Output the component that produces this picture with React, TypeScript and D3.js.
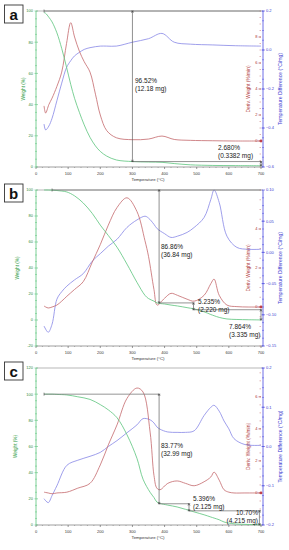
import React from 'react';
import * as d3 from 'd3';

// shared temperature axis
const tempTicks = [0, 100, 200, 300, 400, 500, 600, 700];

// ---- panel a ----
const tA = [25, 30, 40, 50, 65, 80, 95, 108, 120, 135, 150, 168, 185, 200, 220, 250, 300, 350, 392, 430, 480, 550, 620, 700];
const weightA = [99, 98.5, 96, 93, 86, 76, 64, 53, 44, 35, 27, 19, 13.5, 10, 7, 4.5, 3.5, 3.2, 3.0, 2.2, 1.4, 1.0, 0.9, 0.8];
const derivA = [2.7, 2.15, 2.8, 3.3, 4.2, 5.3, 7.5, 9.1, 8.0, 6.9, 6.1, 5.3, 3.6, 2.0, 0.8, 0.25, 0.1, 0.15, 0.38, 0.12, 0.05, 0.02, 0, 0];
const dtaA = [-0.38, -0.41, -0.39, -0.35, -0.26, -0.17, -0.09, -0.055, -0.03, -0.012, 0.003, 0.012, 0.017, 0.02, 0.02, 0.02, 0.04, 0.058, 0.085, 0.04, 0.03, 0.026, 0.022, 0.02];

// ---- panel b ----
const tB = [25, 38, 50, 65, 80, 96, 120, 147, 175, 200, 225, 252, 283, 314, 339, 350, 367, 377, 400, 420, 440, 470, 492, 523, 544, 554, 570, 594, 625, 660, 700];
const weightB = [100, 100, 99.9, 99.6, 99.2, 98.5, 95.5, 90, 82, 73, 65, 56, 43, 29, 19, 16.5, 14.5, 13.1, 12.3, 11.5, 10.8, 9.5, 8.5, 6.3, 4.2, 3.3, 2, 0.8, 0.4, 0.2, 0.05];
const derivB = [0.05, -0.05, 0, 0.1, 0.3, 0.55, 0.9, 1.3, 2.3, 3.2, 4.2, 5.1, 5.6, 4.9, 3.4, 2.6, 0.9, 0.1, 0.45, 0.7, 0.6, 0.4, 0.3, 0.6, 1.2, 1.43, 0.6, 0.1, 0.02, 0, 0];
const dtaB = [-0.118, -0.128, -0.115, -0.075, -0.063, -0.054, -0.044, -0.034, -0.014, -0.002, 0.01, 0.021, 0.04, 0.052, 0.058, 0.055, 0.045, 0.038, 0.03, 0.024, 0.026, 0.032, 0.04, 0.056, 0.085, 0.1, 0.08, 0.026, 0.008, 0.005, 0.005];

// ---- panel c ----
const tC = [25, 38, 50, 65, 96, 130, 168, 200, 225, 252, 283, 314, 333, 355, 367, 376, 386, 410, 439, 465, 492, 523, 544, 554, 570, 585, 600, 616, 650, 700];
const weightC = [100, 100, 100, 99.8, 99.4, 98, 96, 92, 88, 82, 69, 51, 35, 25, 21, 17.6, 16.5, 15.2, 13.8, 12, 10, 7.8, 6.1, 5.3, 4, 2.3, 1.5, 0.9, 0.5, 0.13];
const derivC = [0.05, 0, -0.05, 0, 0.05, 0.3, 0.6, 1.75, 3.0, 4.25, 5.9, 6.55, 6.3, 3.8, 1.1, 0.3, 0.2, 0.6, 0.75, 0.6, 0.45, 0.7, 1.0, 1.3, 0.8, 0.2, 0.05, 0, 0, 0];
const dtaC = [-0.133, -0.143, -0.125, -0.1, -0.048, -0.035, -0.025, -0.015, 0, 0.015, 0.035, 0.055, 0.071, 0.068, 0.06, 0.05, 0.044, 0.037, 0.036, 0.036, 0.04, 0.079, 0.1, 0.105, 0.09, 0.065, 0.045, 0.02, 0.005, 0.003];

// weight-loss steps: horizontal guide lines and vertical measurements
const hLinesA = [{ level: 100, t0: 25, t1: 700 }, { level: 3.48, t0: 300, t1: 700 }];
const vLinesA = [{ t: 300, hi: 100, lo: 3.48 }, { t: 700, hi: 3.48, lo: 0.8 }];
const labelsA = [['96.52%', '(12.18 mg)'], ['2.680%', '(0.3382 mg)']];

const hLinesB = [{ level: 100, t0: 50, t1: 700 }, { level: 13.14, t0: 383, t1: 490 }, { level: 7.9, t0: 490, t1: 700 }];
const vLinesB = [{ t: 383, hi: 100, lo: 13.14 }, { t: 490, hi: 13.14, lo: 7.9 }, { t: 700, hi: 7.9, lo: 0.04 }];
const labelsB = [['86.86%', '(36.84 mg)'], ['5.235%', '(2.220 mg)'], ['7.864%', '(3.335 mg)']];

const hLinesC = [{ level: 100, t0: 25, t1: 383 }, { level: 16.23, t0: 383, t1: 476 }, { level: 10.83, t0: 476, t1: 700 }];
const vLinesC = [{ t: 383, hi: 100, lo: 16.23 }, { t: 476, hi: 16.23, lo: 10.83 }, { t: 695, hi: 10.83, lo: 0.13 }];
const labelsC = [['83.77%', '(32.99 mg)'], ['5.396%', '(2.125 mg)'], ['10.70%', '(4.215 mg)']];

const GREEN = '#5cc47c';
const RED = '#c4686c';
const BLUE = '#8686e6';
const FONT = '"Liberation Sans", Arial, sans-serif';

const xScale = d3.scaleLinear().domain([0, 700]).range([36, 261]);

type HLine = { level: number; t0: number; t1: number };
type VLine = { t: number; hi: number; lo: number };
type LabelPos = { x: number; y: number; anchor: string };

interface PanelProps {
  top: number;
  bottom: number;
  letter: string;
  t: number[];
  weight: number[];
  deriv: number[];
  dta: number[];
  wDomain: [number, number];
  wTicks: number[];
  dDomain: [number, number];
  dTicks: number[];
  tDomain: [number, number];
  tTicks: number[];
  tFmt: string;
  hLines: HLine[];
  vLines: VLine[];
  labels: string[][];
  labelPos: LabelPos[];
  wTitleX: number;
}

const Panel: React.FC<PanelProps> = (p) => {
  const yW = d3.scaleLinear().domain(p.wDomain).range([p.bottom, p.top]);
  const yD = d3.scaleLinear().domain(p.dDomain).range([p.bottom, p.top]);
  const yT = d3.scaleLinear().domain(p.tDomain).range([p.bottom, p.top]);
  const mid = (p.top + p.bottom) / 2;

  const mk = (vals: number[], y: d3.ScaleLinear<number, number>) =>
    d3.line<number>()
      .x((_, i) => xScale(p.t[i]))
      .y((v) => y(v))
      .curve(d3.curveCatmullRom.alpha(0.5))(vals) || '';

  // minor ticks
  const xMinor = d3.range(0, 701, 20).filter((v) => v % 100 !== 0);
  const wStep = p.wTicks[1] - p.wTicks[0];
  const wMinor = d3.range(p.wDomain[0], p.wDomain[1] + 0.001, wStep / 4).filter((v) => !p.wTicks.includes(v));
  const tStep = p.tTicks[1] - p.tTicks[0];
  const tMinor = d3.range(0, 20).map((i) => p.tDomain[0] + (i * tStep) / 4).filter((v) => v <= p.tDomain[1] + 1e-9);
  const dMinor = d3.range(p.dDomain[0], p.dDomain[1] + 0.001, 0.5);

  const tf = d3.format(p.tFmt);
  const lastDeriv = p.deriv[p.deriv.length - 1];

  return (
    <g fontFamily={FONT}>
      {/* letter box */}
      <rect x={4.5} y={p.top - 6} width={18.5} height={18} fill="#fff" stroke="#333" strokeWidth={0.9} />
      <text x={13.7} y={p.top + 8.5} textAnchor="middle" fontSize={15} fontWeight="bold" fill="#111">{p.letter}</text>

      {/* frame top */}
      <line x1={36} x2={263} y1={p.top} y2={p.top} stroke="#999" strokeWidth={0.7} />

      {/* x axis */}
      <line x1={36} x2={263} y1={p.bottom} y2={p.bottom} stroke="#777" strokeWidth={0.7} />
      {xMinor.map((v) => (
        <line key={'xm' + v} x1={xScale(v)} x2={xScale(v)} y1={p.bottom} y2={p.bottom + 1} stroke="#777" strokeWidth={0.5} />
      ))}
      {tempTicks.map((v) => (
        <g key={'x' + v}>
          <line x1={xScale(v)} x2={xScale(v)} y1={p.bottom} y2={p.bottom + 2} stroke="#555" strokeWidth={0.6} />
          <text x={xScale(v)} y={p.bottom + 7.5} textAnchor="middle" fontSize={4} fill="#333">{v}</text>
        </g>
      ))}
      <text x={148} y={p.bottom + 13.5} textAnchor="middle" fontSize={4.3} fill="#333">Temperature (°C)</text>

      {/* left axis: weight */}
      <line x1={36} x2={36} y1={p.top} y2={p.bottom} stroke={GREEN} strokeWidth={0.8} />
      {wMinor.map((v) => (
        <line key={'wm' + v} x1={35} x2={37} y1={yW(v)} y2={yW(v)} stroke={GREEN} strokeWidth={0.5} />
      ))}
      {p.wTicks.map((v) => (
        <g key={'w' + v}>
          <line x1={34.5} x2={38} y1={yW(v)} y2={yW(v)} stroke={GREEN} strokeWidth={0.6} />
          <text x={33} y={yW(v) + 1.4} textAnchor="end" fontSize={4} fill="#2e8a3e">{v}</text>
        </g>
      ))}
      <text transform={`translate(${p.wTitleX},${mid}) rotate(-90)`} textAnchor="middle" fontSize={4.7} fill="#2e9a40">Weight (%)</text>

      {/* right axis: derivative weight */}
      {dMinor.map((v) => (
        <line key={'dm' + v} x1={259.5} x2={261} y1={yD(v)} y2={yD(v)} stroke={RED} strokeWidth={0.5} />
      ))}
      {p.dTicks.map((v) => (
        <g key={'d' + v}>
          <line x1={258.5} x2={261} y1={yD(v)} y2={yD(v)} stroke="#a33" strokeWidth={0.6} />
          <text x={257.5} y={yD(v) + 1.4} textAnchor="end" fontSize={4} fill="#a33">{v}</text>
        </g>
      ))}
      <text transform={`translate(${250},${mid}) rotate(-90)`} textAnchor="middle" fontSize={4.9} fill="#b03a3a">Deriv. Weight (%/min)</text>

      {/* right axis: temperature difference */}
      <line x1={263} x2={263} y1={p.top} y2={p.bottom} stroke="#4a4ae0" strokeWidth={0.8} />
      {tMinor.map((v, i) => (
        <line key={'tm' + i} x1={262} x2={264} y1={yT(v)} y2={yT(v)} stroke="#4a4ae0" strokeWidth={0.5} />
      ))}
      {p.tTicks.map((v) => (
        <g key={'t' + v}>
          <line x1={261.5} x2={265} y1={yT(v)} y2={yT(v)} stroke="#4a4ae0" strokeWidth={0.6} />
          <text x={266} y={yT(v) + 1.4} fontSize={4} fill="#3a3ad0">{tf(v)}</text>
        </g>
      ))}
      <text transform={`translate(${281.5},${mid}) rotate(-90)`} textAnchor="middle" fontSize={5.1} fill="#3a3ad0">Temperature Difference (°C/mg)</text>

      {/* curves */}
      <path d={mk(p.dta, yT)} fill="none" stroke={BLUE} strokeWidth={0.8} />
      <path d={mk(p.deriv, yD)} fill="none" stroke={RED} strokeWidth={0.8} />
      <circle cx={xScale(700)} cy={yD(lastDeriv)} r={1.4} fill="#c0404a" />
      <path d={mk(p.weight, yW)} fill="none" stroke={GREEN} strokeWidth={0.8} />

      {/* step annotations */}
      {p.hLines.map((h, i) => (
        <line key={'h' + i} x1={xScale(h.t0)} x2={xScale(h.t1)} y1={yW(h.level)} y2={yW(h.level)} stroke="#7a7a7a" strokeWidth={0.8} />
      ))}
      {p.vLines.map((v, i) => (
        <g key={'v' + i} stroke="#444" strokeWidth={0.6}>
          <line x1={xScale(v.t)} x2={xScale(v.t)} y1={yW(v.hi)} y2={yW(v.lo)} />
          <line x1={xScale(v.t) - 1.2} x2={xScale(v.t) + 1.2} y1={yW(v.hi)} y2={yW(v.hi)} />
          <line x1={xScale(v.t) - 1.2} x2={xScale(v.t) + 1.2} y1={yW(v.lo)} y2={yW(v.lo)} />
          <path d={`M${xScale(v.t) - 1},${yW(v.hi) + 1.8}L${xScale(v.t)},${yW(v.hi)}L${xScale(v.t) + 1},${yW(v.hi) + 1.8}`} fill="none" />
          <path d={`M${xScale(v.t) - 1},${yW(v.lo) - 1.8}L${xScale(v.t)},${yW(v.lo)}L${xScale(v.t) + 1},${yW(v.lo) - 1.8}`} fill="none" />
        </g>
      ))}
      {p.hLines.length > 0 && (
        <line x1={xScale(p.hLines[0].t0)} x2={xScale(p.hLines[0].t0)} y1={yW(p.hLines[0].level) - 1.5} y2={yW(p.hLines[0].level) + 1.5} stroke="#444" strokeWidth={0.6} />
      )}
      {p.labels.map((lines, i) => (
        <text key={'l' + i} x={p.labelPos[i].x} y={p.labelPos[i].y} textAnchor={p.labelPos[i].anchor} fontSize={6.5} fill="#222">
          {lines.map((s, j) => (
            <tspan key={j} x={p.labelPos[i].x} dy={j === 0 ? 0 : 8}>{s}</tspan>
          ))}
        </text>
      ))}
    </g>
  );
};

export default function App() {
  return (
    <svg width={289} height={550} style={{ position: 'absolute', left: 0, top: 0, background: '#fff' }}>
      <Panel
        top={11} bottom={167} letter="a"
        t={tA} weight={weightA} deriv={derivA} dta={dtaA}
        wDomain={[0, 100]} wTicks={[0, 20, 40, 60, 80, 100]}
        dDomain={[-2, 10]} dTicks={[0, 2, 4, 6, 8]}
        tDomain={[-0.6, 0.2]} tTicks={[-0.6, -0.4, -0.2, 0, 0.2]} tFmt=".1f"
        hLines={hLinesA} vLines={vLinesA} labels={labelsA}
        labelPos={[{ x: 135, y: 83, anchor: 'start' }, { x: 218, y: 150, anchor: 'start' }]}
        wTitleX={24.5}
      />
      <Panel
        top={190} bottom={346} letter="b"
        t={tB} weight={weightB} deriv={derivB} dta={dtaB}
        wDomain={[-20, 100]} wTicks={[-20, 0, 20, 40, 60, 80, 100]}
        dDomain={[-2, 6]} dTicks={[0, 2, 4]}
        tDomain={[-0.15, 0.1]} tTicks={[-0.15, -0.1, -0.05, 0, 0.05, 0.1]} tFmt=".2f"
        hLines={hLinesB} vLines={vLinesB} labels={labelsB}
        labelPos={[{ x: 161, y: 248.5, anchor: 'start' }, { x: 198, y: 303.5, anchor: 'start' }, { x: 229, y: 328.5, anchor: 'start' }]}
        wTitleX={19}
      />
      <Panel
        top={368} bottom={525} letter="c"
        t={tC} weight={weightC} deriv={derivC} dta={dtaC}
        wDomain={[0, 120]} wTicks={[0, 20, 40, 60, 80, 100, 120]}
        dDomain={[-2, 7.8]} dTicks={[0, 2, 4, 6]}
        tDomain={[-0.2, 0.2]} tTicks={[-0.2, -0.1, 0, 0.1, 0.2]} tFmt=".1f"
        hLines={hLinesC} vLines={vLinesC} labels={labelsC}
        labelPos={[{ x: 161, y: 447.5, anchor: 'start' }, { x: 193, y: 500.5, anchor: 'start' }, { x: 258, y: 514.5, anchor: 'end' }]}
        wTitleX={17}
      />
    </svg>
  );
}
